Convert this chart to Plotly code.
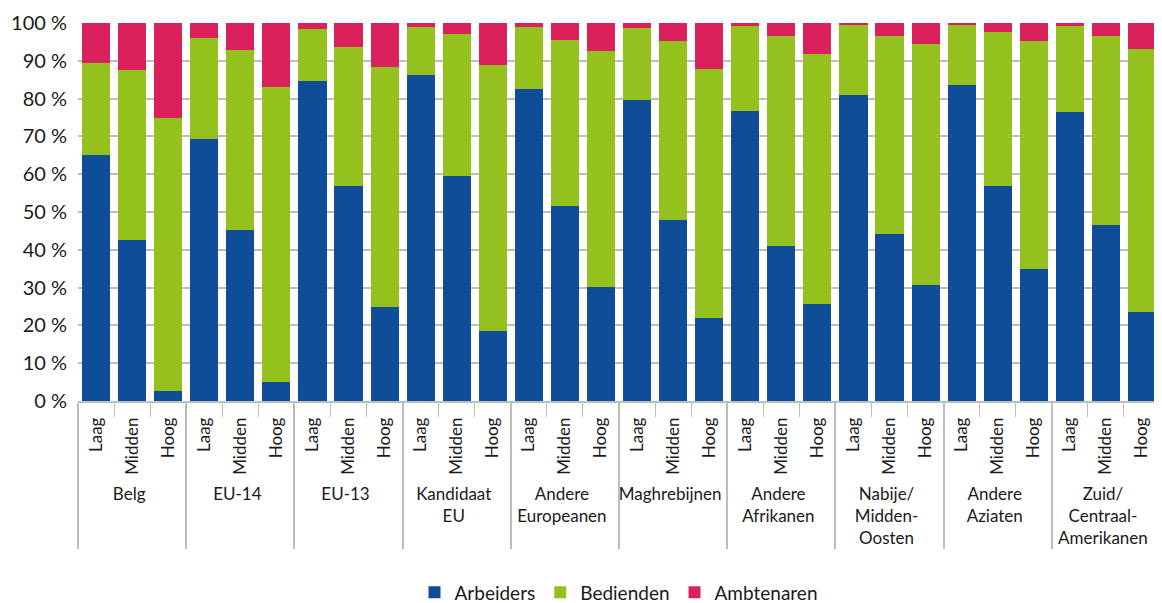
import plotly.graph_objects as go

groups = ["Belg", "EU-14", "EU-13", "Kandidaat<br>EU", "Andere<br>Europeanen",
          "Maghrebijnen", "Andere<br>Afrikanen", "Nabije/<br>Midden-<br>Oosten",
          "Andere<br>Aziaten", "Zuid/<br>Centraal-<br>Amerikanen"]
levels = ["Laag", "Midden", "Hoog"]

arbeiders = [65.0, 42.5, 2.6, 69.2, 45.2, 5.0, 84.6, 56.8, 24.8,
             86.2, 59.4, 18.4, 82.5, 51.5, 30.1, 79.5, 47.8, 21.9,
             76.6, 40.9, 25.6, 80.9, 44.1, 30.6, 83.5, 56.8, 34.8,
             76.4, 46.5, 23.5]
arb_plus_bed = [89.3, 87.5, 74.8, 96.0, 92.8, 83.0, 98.4, 93.6, 88.3,
                98.9, 97.0, 88.8, 98.9, 95.4, 92.5, 98.6, 95.2, 87.8,
                99.1, 96.5, 91.7, 99.4, 96.5, 94.4, 99.7, 97.5, 95.2,
                99.1, 96.5, 93.2]
bedienden = [round(t - a, 1) for t, a in zip(arb_plus_bed, arbeiders)]
ambtenaren = [round(100 - t, 1) for t in arb_plus_bed]

x_outer = [g for g in groups for _ in levels]
x_inner = [l for _ in groups for l in levels]

series = [("Arbeiders", arbeiders, "#0F4D98"),
          ("Bedienden", bedienden, "#95C11F"),
          ("Ambtenaren", ambtenaren, "#DB215C")]

fig = go.Figure()
for name, vals, col in series:
    fig.add_trace(go.Bar(x=[x_outer, x_inner], y=vals, name=name,
                         marker=dict(color=col, line=dict(width=0))))

# page body keeps an 8px default margin, so the figure is sized to fit
fig.update_layout(
    barmode="stack",
    bargap=0.22,
    width=1154, height=595,
    margin=dict(l=70, r=2, t=15, b=202),
    paper_bgcolor="white", plot_bgcolor="white",
    font=dict(family="Lato", color="#1a1a1a", size=17),
    legend=dict(orientation="h", x=0.5, xanchor="center",
                yref="container", y=0.018, yanchor="middle",
                font=dict(size=19), itemwidth=30, traceorder="normal"),
    showlegend=True,
)
fig.update_yaxes(range=[0, 100], dtick=10, ticksuffix=" %", showgrid=True,
                 gridcolor="#BDBDBD", gridwidth=1.5, zeroline=False,
                 showline=False, tickfont=dict(size=20), ticks="",
                 ticklabelstandoff=10, automargin=False)
fig.update_xaxes(type="multicategory", tickangle=-90, showline=True,
                 linecolor="#BDBDBD", linewidth=1.5, ticks="outside",
                 tickson="boundaries", ticklen=14, tickcolor="#BDBDBD",
                 showdividers=True, dividercolor="#BDBDBD", dividerwidth=1.5,
                 tickfont=dict(size=17), ticklabelstandoff=8, automargin=False)

fig.write_html("out.html")
